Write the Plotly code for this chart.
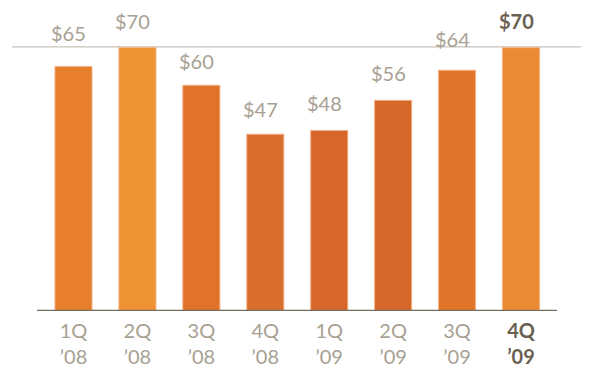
import plotly.graph_objects as go

quarters = ["1Q<br>’08", "2Q<br>’08", "3Q<br>’08", "4Q<br>’08",
            "1Q<br>’09", "2Q<br>’09", "3Q<br>’09", "4Q<br>’09"]
values = [65, 70, 60, 47, 48, 56, 64, 70]
value_labels = ["$65", "$70", "$60", "$47", "$48", "$56", "$64", "$70"]
reference_level = 70.2

bar_colors = ["#e87f2c", "#ee9232", "#e0722a", "#d86d2e",
              "#d8662b", "#d6672b", "#e07529", "#ec8a34"]
label_shift = [24, 18, 15, 16, 18, 18, 22, 18]

GRAY = "#a89f92"
DARK = "#6b6152"
FONT = "Lato"

x = list(range(len(values)))
ticktext = []
for i, q in enumerate(quarters):
    if i == len(quarters) - 1:
        ticktext.append("<span style='color:%s'><b>%s</b></span>" % (DARK, q.replace("<br>", "</b></span><br><span style='color:%s'><b>" % DARK)))
    else:
        ticktext.append(q)

fig = go.Figure()
fig.add_trace(go.Bar(
    x=x, y=values, width=0.58,
    marker=dict(color=bar_colors, line=dict(color="#f2b48a", width=1)),
    hoverinfo="skip",
))

for i, (v, lab) in enumerate(zip(values, value_labels)):
    last = i == len(values) - 1
    fig.add_annotation(
        x=i, y=v, text=("<b>" + lab + "</b>") if last else lab,
        showarrow=False, yanchor="bottom", xanchor="center",
        xshift=-5, yshift=label_shift[i] - 5,
        font=dict(family=FONT, size=20, color=DARK if last else GRAY),
    )

# reference line at top
fig.add_shape(type="line", xref="paper", yref="y",
              x0=-0.048, x1=1.08, y0=reference_level, y1=reference_level,
              line=dict(color="#c9c1b8", width=1.2), layer="below")
# baseline
fig.add_shape(type="line", xref="paper", yref="y",
              x0=0, x1=1, y0=0, y1=0,
              line=dict(color="#776d5e", width=2.5))

fig.update_layout(
    width=581, height=362,
    margin=dict(l=29, r=32, t=2, b=59),
    paper_bgcolor="white", plot_bgcolor="white",
    showlegend=False,
    xaxis=dict(range=[-0.571, 7.563], tickmode="array", tickvals=x,
               ticktext=ticktext, showgrid=False, zeroline=False,
               showline=False, ticks="", ticklabelstandoff=6,
               automargin=False,
               tickfont=dict(family=FONT, size=20, color=GRAY)),
    yaxis=dict(range=[0, 80], showgrid=False, zeroline=False,
               showticklabels=False, showline=False, ticks="",
               automargin=False),
)

fig.write_html("out.html")
